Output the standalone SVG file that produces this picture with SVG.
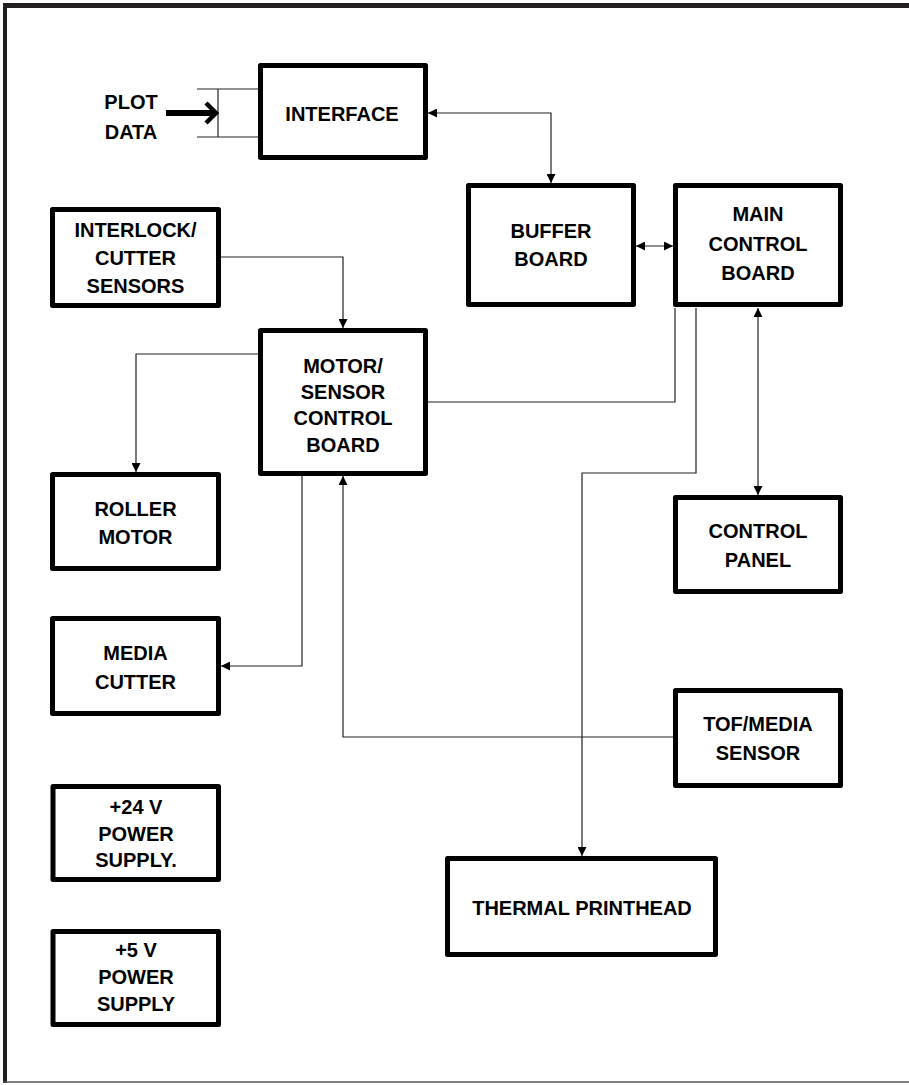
<svg xmlns="http://www.w3.org/2000/svg" width="909" height="1085" viewBox="0 0 909 1085">
<style>
.box{fill:#fff;stroke:#000;stroke-width:5;stroke-linejoin:round}
.t{font-family:"Liberation Sans",Arial,sans-serif;font-weight:bold;font-size:20px;text-anchor:middle;fill:#000}
.c{fill:none;stroke:#222;stroke-width:1.2}
</style>
<defs>
<marker id="ah" viewBox="0 0 10 10" refX="10" refY="5" markerUnits="userSpaceOnUse" markerWidth="10" markerHeight="9" orient="auto-start-reverse">
<path d="M0,0 L10,5 L0,10 z" fill="#000"/>
</marker>
</defs>
<rect width="909" height="1085" fill="#fff"/>
<g id="frame">
<line x1="3" y1="5.5" x2="909" y2="5.5" stroke="#231f20" stroke-width="5"/>
<line x1="5" y1="3" x2="5" y2="1083" stroke="#231f20" stroke-width="4"/>
<line x1="3" y1="1082" x2="909" y2="1082" stroke="#555" stroke-width="1.5"/>
</g>
<g id="connectors">
<path class="c" d="M428,113 H551 V183" marker-start="url(#ah)" marker-end="url(#ah)"/>
<path class="c" d="M636,246 H673" marker-start="url(#ah)" marker-end="url(#ah)"/>
<path class="c" d="M675,308 V402 H428"/>
<path class="c" d="M696,308 V473 H582 V856" marker-end="url(#ah)"/>
<path class="c" d="M758,308 V495" marker-start="url(#ah)" marker-end="url(#ah)"/>
<path class="c" d="M221,257 H343 V328" marker-end="url(#ah)"/>
<path class="c" d="M258,354 H136 V472" marker-end="url(#ah)"/>
<path class="c" d="M302,476 V666 H221" marker-end="url(#ah)"/>
<path class="c" d="M673,737 H343 V476" marker-end="url(#ah)"/>
</g>
<g id="plot-data">
<path class="c" d="M197,89 H258 M197,137 H258 M218,89 V137"/>
<path d="M166,113 H215" stroke="#000" stroke-width="6" fill="none"/>
<path d="M206,103 L216,113 L206,123" stroke="#000" stroke-width="4.5" fill="none"/>
<text class="t" x="131" y="109">PLOT</text>
<text class="t" x="131" y="139">DATA</text>
</g>
<g id="interface">
<rect class="box" x="260.5" y="65.5" width="165" height="92"/>
<text class="t" x="342" y="120.5">INTERFACE</text>
</g>
<g id="buffer-board">
<rect class="box" x="468.5" y="185.5" width="165" height="119"/>
<text class="t" x="551" y="237.5">BUFFER</text>
<text class="t" x="551" y="265.5">BOARD</text>
</g>
<g id="main-control-board">
<rect class="box" x="675.5" y="185.5" width="165" height="119"/>
<text class="t" x="758" y="220.5">MAIN</text>
<text class="t" x="758" y="250.5">CONTROL</text>
<text class="t" x="758" y="279.5">BOARD</text>
</g>
<g id="interlock-cutter-sensors">
<rect class="box" x="52.5" y="209.5" width="166" height="96"/>
<text class="t" x="135.5" y="236.5">INTERLOCK/</text>
<text class="t" x="135.5" y="264.5">CUTTER</text>
<text class="t" x="135.5" y="292.5">SENSORS</text>
</g>
<g id="motor-sensor-control-board">
<rect class="box" x="260.5" y="330.5" width="165" height="143"/>
<text class="t" x="343" y="372.5">MOTOR/</text>
<text class="t" x="343" y="398.5">SENSOR</text>
<text class="t" x="343" y="424.5">CONTROL</text>
<text class="t" x="343" y="451.5">BOARD</text>
</g>
<g id="roller-motor">
<rect class="box" x="52.5" y="474.5" width="166" height="94"/>
<text class="t" x="135.5" y="515.5">ROLLER</text>
<text class="t" x="135.5" y="543.5">MOTOR</text>
</g>
<g id="media-cutter">
<rect class="box" x="52.5" y="618.5" width="166" height="95"/>
<text class="t" x="135.5" y="659.5">MEDIA</text>
<text class="t" x="135.5" y="688.5">CUTTER</text>
</g>
<g id="control-panel">
<rect class="box" x="675.5" y="497.5" width="165" height="94"/>
<text class="t" x="758" y="537.5">CONTROL</text>
<text class="t" x="758" y="566.5">PANEL</text>
</g>
<g id="tof-media-sensor">
<rect class="box" x="675.5" y="690.5" width="165" height="95"/>
<text class="t" x="758" y="730.5">TOF/MEDIA</text>
<text class="t" x="758" y="759.5">SENSOR</text>
</g>
<g id="power-24v">
<rect class="box" x="53" y="786.5" width="165.5" height="93"/>
<text class="t" x="136" y="813.5">+24 V</text>
<text class="t" x="136" y="840.5">POWER</text>
<text class="t" x="136" y="866.5">SUPPLY.</text>
</g>
<g id="power-5v">
<rect class="box" x="53" y="931.5" width="165.5" height="93"/>
<text class="t" x="136" y="956.5">+5 V</text>
<text class="t" x="136" y="983.5">POWER</text>
<text class="t" x="136" y="1010.5">SUPPLY</text>
</g>
<g id="thermal-printhead">
<rect class="box" x="447.5" y="858.5" width="268" height="96"/>
<text class="t" x="582" y="914.5">THERMAL PRINTHEAD</text>
</g>
</svg>
